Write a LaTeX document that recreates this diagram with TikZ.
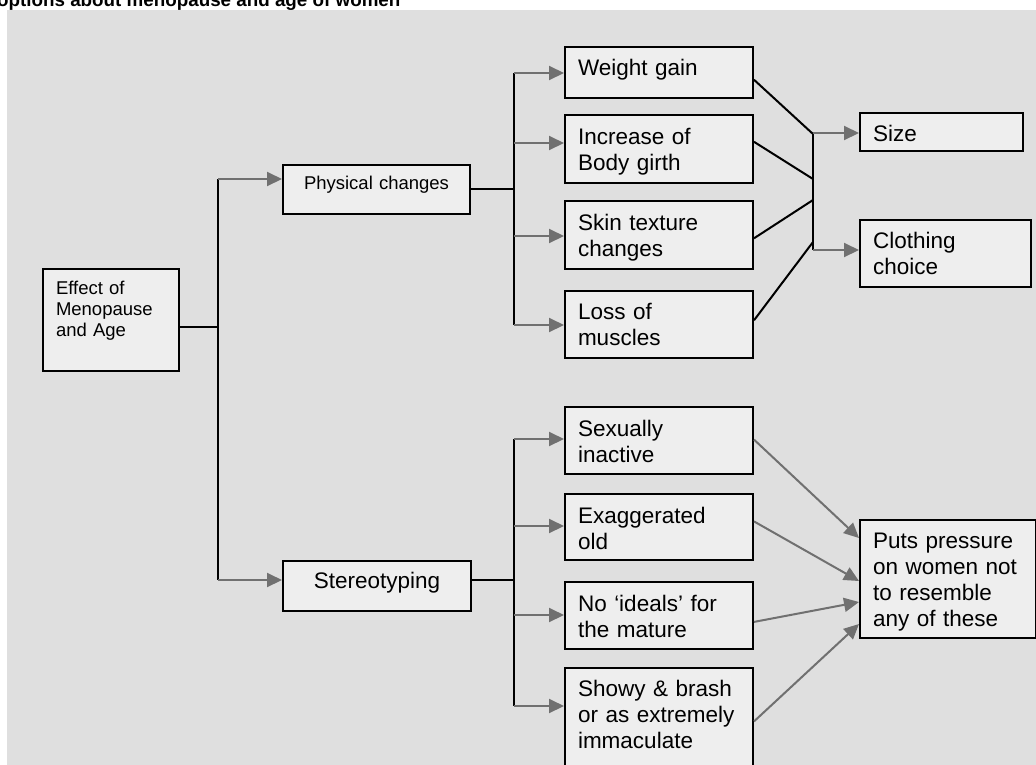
\documentclass[tikz,border=0pt]{standalone}
\usepackage{fontspec}
\setmainfont{Liberation Sans}
\usetikzlibrary{arrows.meta}
\definecolor{bggray}{HTML}{DFDFDF}
\definecolor{boxfill}{HTML}{EEEEEE}
\definecolor{arrowgray}{HTML}{707070}
\begin{document}
\begin{tikzpicture}[x=1pt,y=-1pt,
  box/.style={draw=black, line width=2pt, fill=boxfill, anchor=north west,
    inner xsep=13pt, inner ysep=0pt, align=left,
    font=\fontsize{22.5}{26}\selectfont},
  smallbox/.style={box, font=\fontsize{18.5}{21}\selectfont},
  conn/.style={draw=black, line width=2pt},
  garrow/.style={draw=arrowgray, line width=2pt, -{Triangle[length=15pt,width=14pt]}},
]
\useasboundingbox (0,0) rectangle (1036,764);
\fill[bggray] (7,10) rectangle (1040,770);

% heading
\node[anchor=base west, inner sep=0pt, font=\bfseries\fontsize{18.8}{22}\selectfont]
  (title) at (-3,6) {options about menopause and age of women};

% root and the two branches
\node[smallbox, text width=110pt, text height=25pt, text depth=77pt] (eff) at (42,268)
  {Effect of\\Menopause\\and Age};
\node[smallbox, align=center, text width=161pt, text height=24pt, text depth=25pt] (phys) at (282,164)
  {Physical changes};
\node[box, align=center, text width=162pt, text height=27pt, text depth=23pt] (stereo) at (282,560)
  {Stereotyping};

% physical changes
\node[box, text width=162pt, text height=28.5pt, text depth=22pt] (wg) at (564,46) {Weight gain};
\node[box, text width=162pt, text height=29pt, text depth=39pt] (ib) at (564,114) {Increase of\\Body girth};
\node[box, text width=162pt, text height=29pt, text depth=39pt] (st) at (564,200) {Skin texture\\changes};
\node[box, text width=162pt, text height=28pt, text depth=39pt] (lm) at (564,290) {Loss of\\muscles};

\node[box, text width=137pt, text height=28pt, text depth=10pt] (size) at (859,112) {Size};
\node[box, text width=145pt, text height=28pt, text depth=39pt] (cloth) at (859,219) {Clothing\\choice};

% stereotypes
\node[box, text width=162pt, text height=29pt, text depth=38pt] (sx) at (564,406) {Sexually\\inactive};
\node[box, text width=162pt, text height=29pt, text depth=37pt] (ex) at (564,493) {Exaggerated\\old};
\node[box, text width=162pt, text height=29pt, text depth=38pt] (ni) at (564,581) {No ‘ideals’ for\\the mature};
\node[box, text width=162pt, text height=28pt, text depth=120pt] (sh) at (564,667)
  {Showy \& brash\\or~as~extremely\\immaculate};

\node[box, text width=150pt, text height=28pt, text depth=90pt] (puts) at (859,519)
  {Puts pressure\\on women not\\to resemble\\any of these};

% root trunk
\coordinate (a1) at (218,179);
\coordinate (a2) at (218,580);
\coordinate (aj) at (218,327);
\draw[conn] (a1) -- (a2);
\draw[conn] (eff.east |- aj) -- (aj);
\draw[garrow] (a1) -- (a1 -| phys.west);
\draw[garrow] (a2) -- (a2 -| stereo.west);

% physical changes trunk
\coordinate (b1) at (514,73);
\coordinate (b2) at (514,143);
\coordinate (b3) at (514,236);
\coordinate (b4) at (514,325);
\coordinate (bj) at (514,189);
\draw[conn] (b1) -- (b4);
\draw[conn] (phys.east |- bj) -- (bj);
\draw[garrow] (b1) -- (b1 -| wg.west);
\draw[garrow] (b2) -- (b2 -| ib.west);
\draw[garrow] (b3) -- (b3 -| st.west);
\draw[garrow] (b4) -- (b4 -| lm.west);

% stereotyping trunk
\coordinate (c1) at (514,439);
\coordinate (c2) at (514,526);
\coordinate (c3) at (514,615);
\coordinate (c4) at (514,706);
\coordinate (cj) at (514,580);
\draw[conn] (c1) -- (c4);
\draw[conn] (stereo.east |- cj) -- (cj);
\draw[garrow] (c1) -- (c1 -| sx.west);
\draw[garrow] (c2) -- (c2 -| ex.west);
\draw[garrow] (c3) -- (c3 -| ni.west);
\draw[garrow] (c4) -- (c4 -| sh.west);

% gathering bar towards size and clothing
\coordinate (d1) at (813,133);
\coordinate (d2) at (813,250);
\draw[conn] (d1) -- (d2);
\draw[conn] ([yshift=-7.5pt]wg.east) -- (813,134);
\draw[conn] ([yshift=7.2pt]ib.east) -- (813,179);
\draw[conn] ([yshift=-3.3pt]st.east) -- (813,200);
\draw[conn] ([yshift=4.2pt]lm.east) -- (813,242);
\draw[garrow] (d1) -- (d1 -| size.west);
\draw[garrow] (d2) -- (d2 -| cloth.west);

% stereotypes feeding the pressure box
\draw[garrow] ([yshift=0.9pt]sx.east) -- ([yshift=41pt]puts.west);
\draw[garrow] ([yshift=5.6pt]ex.east) -- ([yshift=-2pt]puts.west);
\draw[garrow] ([yshift=-6.4pt]ni.east) -- ([yshift=-23pt]puts.west);
\draw[garrow] ([yshift=-54.4pt]sh.north east) -- ([yshift=-45pt]puts.west);
\end{tikzpicture}
\end{document}
